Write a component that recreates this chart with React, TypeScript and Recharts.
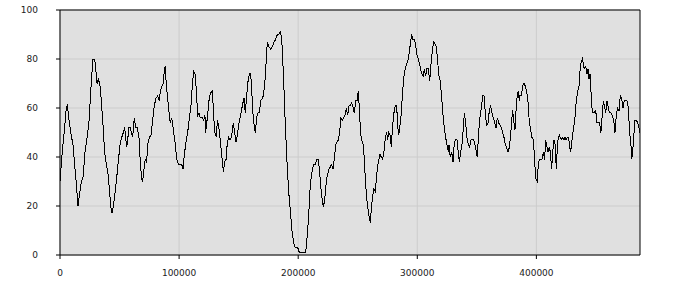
import { LineChart, Line, XAxis, YAxis, CartesianGrid, ReferenceLine } from "recharts";

// sample positions along the x axis, in thousands
const positionsK = [
  // 0 - 60k
  0, 1.7, 3.9, 5.3, 6.2, 7.3, 9.0, 10.9, 12.3, 13.7, 15.1, 16.2, 17.9, 19.6, 20.7, 22.7, 24.3, 25.5, 26.3, 27.7,
  29.1, 30.2, 31.1, 32.2, 33.6, 34.7, 36.1, 37.5, 38.9, 40.3, 41.7, 42.5, 43.7, 44.8, 45.9, 47.3, 48.7, 50.4, 51.8, 53.2,
  54.3, 55.1, 56.0, 56.8, 57.9, 59.1, 59.9,
  // 60k - 122k
  61.0, 62.4, 63.5, 64.7, 65.2, 66.3, 67.4, 68.6, 69.4, 70.5, 71.6, 72.8, 73.6, 75.0, 76.4, 77.8, 79.2, 80.6, 82.0, 83.4,
  84.2, 85.6, 86.8, 87.6, 88.4, 89.3, 90.4, 91.8, 92.6, 93.8, 95.2, 96.6, 98.0, 99.4, 100.8, 102.2, 103.3, 104.4, 105.8, 107.2,
  108.6, 110.0, 111.1, 112.2, 113.4, 114.5, 115.6, 116.7, 117.8, 119.5, 120.6, 121.7,
  // 122k - 183k
  122.3, 123.7, 125.1, 126.2, 127.9, 128.7, 129.9, 131.3, 132.1, 133.2, 134.3, 135.5, 136.6, 137.1, 138.3, 139.4, 140.5, 141.6, 142.7, 143.9,
  145.0, 145.5, 146.7, 147.8, 148.9, 150.3, 151.7, 153.1, 154.5, 155.6, 156.7, 157.9, 159.0, 160.1, 160.9, 162.0, 163.2, 164.0, 165.1, 166.2,
  167.4, 168.5, 169.9, 170.7, 171.8, 173.0, 174.1, 175.5, 176.9, 178.3, 179.7, 181.1, 182.5,
  // 183k - 244k
  183.6, 185.0, 186.1, 187.0, 187.8, 189.2, 190.6, 192.0, 193.4, 194.8, 196.2, 197.6, 199.6, 201.0, 203.2, 205.4, 206.3, 207.4, 208.8, 210.2,
  211.6, 213.0, 214.4, 215.8, 216.9, 218.0, 219.1, 220.5, 221.4, 222.5, 223.6, 224.7, 225.9, 227.0, 228.1, 229.2, 230.3, 231.5, 232.6, 233.7,
  234.8, 235.9, 237.1, 238.2, 239.3, 240.4, 241.5, 242.7, 243.8,
  // 244k - 305k
  244.9, 246.3, 247.1, 248.3, 249.4, 250.5, 251.3, 252.5, 253.8, 254.7, 255.5, 256.4, 257.5, 258.3, 259.4, 260.6, 261.4, 262.5, 263.6, 264.8,
  265.9, 267.3, 268.7, 269.8, 270.9, 272.0, 273.2, 274.3, 275.1, 276.0, 277.1, 278.2, 279.3, 280.4, 281.6, 282.7, 283.5, 284.4, 285.5, 286.6,
  287.7, 288.8, 289.9, 291.1, 291.9, 292.8, 293.6, 294.4, 295.3, 296.4, 297.5, 298.6, 299.5, 300.9, 302.3, 303.7, 305.1,
  // 305k - 366k
  305.9, 307.0, 308.1, 309.3, 310.4, 311.5, 312.6, 313.7, 314.9, 316.0, 317.1, 318.2, 319.3, 320.5, 321.6, 322.7, 323.8, 324.9, 326.1, 326.6,
  327.7, 328.9, 330.0, 331.1, 332.2, 333.3, 334.4, 335.3, 336.4, 337.5, 338.7, 339.5, 340.6, 341.7, 342.8, 344.0, 345.1, 346.2, 347.3, 348.4,
  349.6, 350.4, 351.5, 352.6, 353.8, 354.9, 356.0, 357.1, 358.2, 359.4, 360.5, 361.6, 362.7, 363.8, 365.0, 366.1,
  // 367k - 427k
  367.2, 368.3, 369.4, 370.6, 371.7, 372.8, 373.9, 375.0, 376.2, 377.3, 378.4, 379.5, 380.1, 381.2, 382.0, 382.9, 383.7, 384.8, 385.7, 386.2,
  387.3, 388.5, 389.6, 390.7, 391.8, 392.9, 394.1, 395.2, 396.3, 397.4, 398.0, 398.5, 399.7, 400.8, 401.6, 402.5, 403.6, 404.7, 405.8, 406.9,
  407.8, 408.6, 409.7, 410.9, 411.7, 412.8, 413.7, 414.8, 415.9, 416.7, 417.6, 418.4, 419.3, 420.1, 420.9, 422.1, 423.2, 424.0, 424.9, 426.0,
  427.1,
  // 428k - 487k
  428.5, 429.3, 430.2, 431.3, 432.4, 433.5, 434.7, 435.8, 436.6, 437.7, 438.6, 439.4, 440.2, 441.4, 442.5, 443.3, 444.2, 445.0, 445.8, 446.7,
  447.5, 448.6, 449.8, 450.9, 452.0, 453.1, 454.2, 455.4, 456.2, 457.0, 458.2, 459.3, 460.4, 461.5, 462.6, 463.8, 464.9, 466.0, 467.1, 468.2,
  469.4, 470.5, 471.6, 472.7, 473.8, 474.9, 476.1, 477.2, 478.3, 479.4, 480.0, 480.8, 481.7, 482.8, 483.9, 485.0, 486.1, 487.0,
];

const values = [
  // 0 - 60k
  30, 41, 52, 60, 61, 56, 50, 45, 37, 29, 20, 24, 30, 32, 41, 48, 54, 64, 71, 80,
  80, 75, 70, 72, 69, 63, 53, 42, 37, 33, 26, 20, 17, 20, 24, 30, 37, 45, 48, 50,
  52, 48, 44, 47, 52, 52, 50,
  // 60k - 122k
  48, 56, 52, 52, 51, 48, 38, 31, 30, 35, 39, 38, 45, 48, 49, 55, 61, 64, 65, 63,
  67, 69, 70, 76, 77, 69, 64, 57, 54, 56, 51, 46, 39, 37, 37, 37, 35, 41, 46, 50,
  56, 61, 69, 75, 74, 67, 57, 58, 56, 56, 55, 57,
  // 122k - 183k
  50, 56, 63, 66, 67, 60, 50, 48, 55, 53, 48, 42, 37, 34, 38, 39, 46, 48, 47, 48,
  52, 54, 50, 46, 49, 54, 57, 61, 64, 58, 65, 71, 74, 74, 68, 58, 52, 50, 56, 58,
  58, 63, 64, 65, 69, 78, 87, 85, 84, 85, 87, 88, 90,
  // 183k - 244k
  90, 91, 89, 80, 71, 53, 38, 26, 18, 10, 5, 3, 3, 1, 1, 1, 1, 7, 16, 29,
  34, 37, 37, 39, 39, 34, 27, 21, 20, 24, 30, 33, 35, 36, 37, 35, 39, 45, 46, 47,
  50, 56, 55, 56, 57, 60, 57, 61, 61,
  // 244k - 305k
  62, 60, 58, 63, 63, 67, 60, 49, 46, 45, 39, 31, 23, 20, 16, 13, 19, 24, 27, 26,
  33, 38, 41, 40, 39, 42, 48, 50, 47, 50, 49, 44, 53, 58, 61, 61, 53, 49, 53, 58,
  67, 73, 76, 78, 79, 81, 84, 87, 90, 88, 88, 86, 82, 80, 77, 74, 73,
  // 305k - 366k
  76, 73, 76, 76, 71, 78, 83, 87, 86, 85, 79, 73, 71, 64, 57, 52, 48, 45, 42, 45,
  40, 42, 38, 46, 47, 47, 42, 38, 42, 45, 52, 58, 54, 48, 45, 44, 47, 47, 47, 45,
  42, 40, 50, 56, 60, 65, 65, 58, 53, 54, 59, 61, 58, 56, 54, 52,
  // 367k - 427k
  56, 54, 53, 52, 50, 48, 45, 44, 42, 44, 49, 56, 59, 54, 51, 59, 64, 67, 63, 65,
  65, 69, 70, 69, 67, 63, 54, 51, 48, 47, 43, 38, 31, 30, 37, 39, 39, 39, 42, 39,
  47, 45, 42, 44, 42, 35, 42, 47, 45, 35, 44, 48, 49, 48, 47, 48, 47, 48, 47, 48,
  48,
  // 428k - 487k
  42, 44, 48, 52, 56, 63, 67, 69, 75, 79, 80, 78, 76, 77, 74, 76, 72, 74, 67, 60,
  58, 58, 59, 54, 54, 54, 50, 58, 63, 61, 58, 63, 60, 58, 58, 57, 55, 50, 57, 60,
  59, 65, 64, 60, 63, 63, 63, 60, 50, 45, 39, 42, 48, 55, 55, 54, 52, 50,
];

const xTicks = [0, 100000, 200000, 300000, 400000];
const yTicks = [0, 20, 40, 60, 80, 100];

const data = positionsK.map((p, i) => ({ x: Math.round(p * 1000), v: values[i] }));

const tickStyle = { fontFamily: "DejaVu Sans", fontSize: 9, fill: "#222" };

export default function App() {
  return (
    <div style={{ position: "absolute", left: 0, top: 0, background: "#fff" }}>
      <LineChart width={700} height={300} data={data} margin={{ top: 10, right: 0, bottom: 0, left: 0 }}>
        <CartesianGrid
          yAxisId="left"
          fill="#e0e0e0"
          fillOpacity={1}
          stroke="#cccccc"
          horizontalValues={yTicks}
          verticalValues={xTicks}
        />
        <XAxis
          dataKey="x"
          type="number"
          domain={[0, 487000]}
          ticks={xTicks}
          height={45}
          tick={tickStyle}
          tickSize={4}
          tickMargin={11}
          axisLine={{ stroke: "#000" }}
          tickLine={{ stroke: "#000" }}
          allowDataOverflow
        />
        <YAxis
          yAxisId="left"
          domain={[0, 100]}
          ticks={yTicks}
          width={60}
          tick={tickStyle}
          tickSize={4}
          tickMargin={18}
          axisLine={{ stroke: "#000" }}
          tickLine={{ stroke: "#000" }}
        />
        <YAxis
          yAxisId="right"
          orientation="right"
          domain={[0, 100]}
          ticks={yTicks}
          width={60}
          tick={tickStyle}
          tickSize={4}
          tickMargin={17}
          axisLine={{ stroke: "#000" }}
          tickLine={{ stroke: "#000" }}
        />
        <ReferenceLine yAxisId="left" y={100} stroke="#000" />
        <Line
          yAxisId="left"
          type="linear"
          dataKey="v"
          stroke="#000"
          strokeWidth={1}
          shapeRendering="crispEdges"
          dot={false}
          isAnimationActive={false}
        />
      </LineChart>
    </div>
  );
}
